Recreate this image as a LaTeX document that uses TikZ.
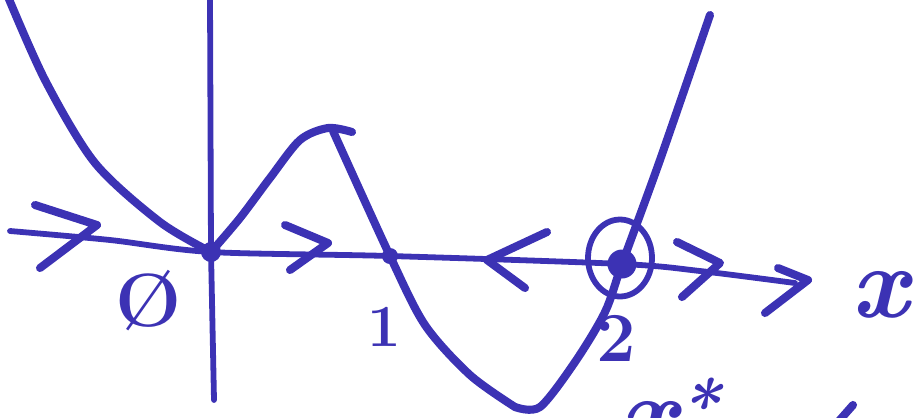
\documentclass[tikz,border=0pt]{standalone}
\usepackage{fontspec}
\definecolor{ink}{RGB}{60,50,180}
\begin{document}
\begin{tikzpicture}[x=0.02cm,y=-0.02cm,
  pen/.style={draw=ink,line width=4.6pt,line cap=round,line join=round},
  axispen/.style={draw=ink,line width=3.3pt,line cap=round,line join=round},
  dot/.style={circle,fill=ink,draw=none,inner sep=0pt},
  lab/.style={text=ink,inner sep=0pt}]
\useasboundingbox (0,0) rectangle (916,417);
\clip (0,0) rectangle (916,417);
% dots (fixed points)
\node[dot,minimum size=0.40cm] (p0) at (211,252) {};
\node[dot,minimum size=0.32cm] (p1) at (390,256) {};
\node[dot,minimum size=0.58cm] (p2) at (622,264) {};
\coordinate (axl) at (10,231);
\coordinate (axr) at (795,283);
\coordinate (vt) at (210,-5);
\coordinate (vb) at (214,400);
% axes
\draw[axispen] plot[smooth] coordinates {(axl) (110,240) (p0) (p1) (p2) (700,271) (axr)};
\draw[axispen] (vt) -- (p0.center) -- (vb);
% curve
\draw[pen] plot[smooth] coordinates {(6,-8) (45,80) (95,163) (160,222) (p0.center)};
\draw[pen] plot[smooth] coordinates {(p0.center) (240,218) (270,178) (300,140) (328,128) (352,132)};
\draw[pen] plot[smooth] coordinates {(333,131) (p1.center) (425,325) (470,375) (515,407)};
\draw[pen] plot[smooth] coordinates {(515,407) (540,407) (575,362) (605,312) (p2.center) (660,160) (710,15)};
% circle around stable point 2
\draw[axispen] (620,258) ellipse [x radius=0.64cm, y radius=0.77cm];
% flow chevrons
\draw[pen] (35,205) -- (97,225) -- (40,268);
\draw[pen] (285,225) -- (328,243) -- (290,270);
\draw[pen] (547,232) -- (487,260) -- (525,288);
\draw[pen] (677,242) -- (720,263) -- (682,297);
\draw[pen] (778,268) -- (808,280) -- (765,313);
% labels
\node[lab,font=\fontsize{43}{43}\selectfont\bfseries] (l0) at (149,301) {Ø};
\node[lab,font=\fontsize{34}{34}\selectfont\bfseries] (l1) at (384,327) {1};
\node[lab,font=\fontsize{40}{40}\selectfont\bfseries] (l2) at (616,338) {2};
\node[lab,font=\fontsize{58}{58}\selectfont\bfseries\itshape] (lx) at (880,295) {x};
\node[lab,font=\fontsize{58}{58}\selectfont\bfseries\itshape,anchor=base west] (lxs) at (620,447) {x\textsuperscript{*}};
\draw[pen] (853,405) -- (838,422);
\end{tikzpicture}
\end{document}
